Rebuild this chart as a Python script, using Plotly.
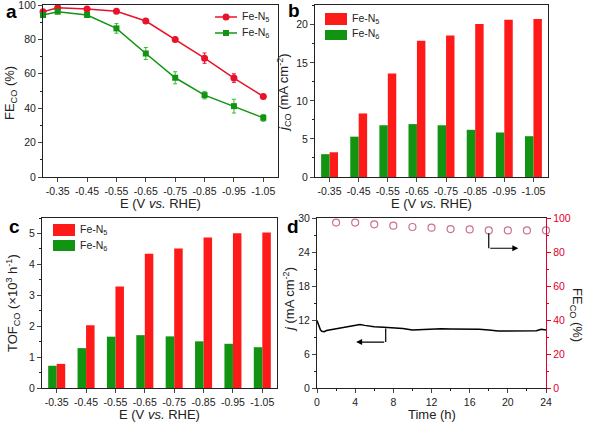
import plotly.graph_objects as go

# ---------------- data ----------------
E_a = [-0.30, -0.35, -0.45, -0.55, -0.65, -0.75, -0.85, -0.95, -1.05]
fe_n5 = [96.1, 98.4, 97.7, 96.3, 90.7, 80.0, 69.1, 57.5, 46.8]
fe_n5_err = [0.8, 0.8, 0.8, 0.8, 1.0, 1.2, 3.0, 2.5, 1.0]
fe_n6 = [94.2, 96.1, 94.2, 86.4, 71.8, 57.7, 47.6, 41.2, 34.4]
fe_n6_err = [0.8, 0.8, 0.8, 2.8, 3.5, 3.5, 2.2, 4.0, 2.0]

E = [-0.35, -0.45, -0.55, -0.65, -0.75, -0.85, -0.95, -1.05]
E_labels = ["-0.35", "-0.45", "-0.55", "-0.65", "-0.75", "-0.85", "-0.95", "-1.05"]
jco_n5 = [3.25, 8.35, 13.6, 17.9, 18.6, 20.1, 20.65, 20.75]
jco_n6 = [3.0, 5.3, 6.8, 6.95, 6.8, 6.2, 5.85, 5.36]
tof_n5 = [0.78, 2.03, 3.28, 4.34, 4.51, 4.87, 5.01, 5.03]
tof_n6 = [0.72, 1.29, 1.66, 1.71, 1.67, 1.51, 1.43, 1.32]

t_line = [0, 0.1, 0.2, 0.35, 0.5, 0.75, 1, 1.5, 2, 3, 4, 4.5, 5, 6, 7, 8, 9, 10, 11, 12,
          13, 14, 15, 16, 17, 18, 19, 20, 21, 22, 23, 23.5, 24]
j_line = [11.9, 11.5, 10.8, 10.3, 10.0, 9.95, 10.15, 10.3, 10.5, 10.7, 11.05, 11.2, 11.05,
          10.8, 10.7, 10.65, 10.5, 10.25, 10.3, 10.45, 10.45, 10.4, 10.4, 10.4, 10.35,
          10.25, 10.05, 10.05, 10.05, 10.05, 10.1, 10.35, 10.25]
t_fe = [2, 4, 6, 8, 10, 12, 14, 16, 18, 20, 22, 24]
fe_t = [97.3, 97.3, 96.3, 95.5, 94.7, 94.3, 93.5, 93.3, 92.7, 92.7, 92.7, 92.7]

RED = "#ff1a1a"
RED_LINE = "#e8132b"
GREEN = "#129412"
FONT = "Liberation Sans, Arial, sans-serif"
W, H = 590, 424

def fx(px):
    return px / W

def fy(py):
    return 1 - py / H

fig = go.Figure()

# panel a
fig.add_trace(go.Scatter(x=E_a, y=fe_n5, mode="lines+markers", name="Fe-N<sub>5</sub>",
                         line=dict(color=RED_LINE, width=1.5),
                         marker=dict(symbol="circle", size=7, color=RED_LINE),
                         error_y=dict(type="data", array=fe_n5_err, color=RED_LINE, thickness=1, width=2),
                         cliponaxis=False, xaxis="x", yaxis="y", showlegend=False))
fig.add_trace(go.Scatter(x=E_a, y=fe_n6, mode="lines+markers", name="Fe-N<sub>6</sub>",
                         line=dict(color=GREEN, width=1.5),
                         marker=dict(symbol="square", size=6, color=GREEN),
                         error_y=dict(type="data", array=fe_n6_err, color="#33bb33", thickness=1, width=2),
                         cliponaxis=False, xaxis="x", yaxis="y", showlegend=False))

# panel b (red trace first: on the reversed axis it lands on the right)
fig.add_trace(go.Bar(x=E, y=jco_n5, name="Fe-N5", marker=dict(color=RED, line=dict(width=0)),
                     xaxis="x2", yaxis="y2", showlegend=False, offsetgroup="g5"))
fig.add_trace(go.Bar(x=E, y=jco_n6, name="Fe-N6", marker=dict(color=GREEN, line=dict(width=0)),
                     xaxis="x2", yaxis="y2", showlegend=False, offsetgroup="g6"))
# panel c
fig.add_trace(go.Bar(x=E, y=tof_n5, name="Fe-N5", marker=dict(color=RED, line=dict(width=0)),
                     xaxis="x3", yaxis="y3", showlegend=False, offsetgroup="g5"))
fig.add_trace(go.Bar(x=E, y=tof_n6, name="Fe-N6", marker=dict(color=GREEN, line=dict(width=0)),
                     xaxis="x3", yaxis="y3", showlegend=False, offsetgroup="g6"))

# panel d
fig.add_trace(go.Scatter(x=t_line, y=j_line, mode="lines", line=dict(color="black", width=1.5),
                         xaxis="x4", yaxis="y4", showlegend=False))
fig.add_trace(go.Scatter(x=t_fe, y=fe_t, mode="markers",
                         marker=dict(symbol="circle-open", size=7, color="#cc6f96", line=dict(width=1.2)),
                         cliponaxis=False, xaxis="x4", yaxis="y5", showlegend=False))

tickfont = dict(family=FONT, size=10.5, color="#222")
common = dict(showgrid=False, zeroline=False, automargin=False, ticklabeloverflow="allow",
              ticks="outside", ticklen=4, tickwidth=1, showline=True)

def xax(domain, anchor):
    return dict(domain=domain, anchor=anchor, range=[-0.30, -1.10], tickmode="array",
                tickvals=E, ticktext=E_labels, linecolor="#222", linewidth=1, mirror=True,
                tickfont=tickfont, **common)

def yax(domain, anchor, rng, dtick, mdt):
    return dict(domain=domain, anchor=anchor, range=rng, dtick=dtick, tick0=0,
                minor=dict(ticks="outside", ticklen=2, dtick=mdt, tick0=0, tickcolor="#222"),
                linecolor="#222", linewidth=1, mirror=True, tickfont=tickfont, **common)

dom_a_x = [fx(43), fx(278)]
dom_b_x = [fx(315), fx(548)]
dom_c_x = [fx(42), fx(277)]
dom_d_x = [fx(317), fx(546)]
dom_top = [fy(177), fy(5)]
dom_bot = [fy(388), fy(218)]

layout = dict(
    width=W, height=H, margin=dict(l=0, r=0, t=0, b=0, autoexpand=False),
    paper_bgcolor="white", plot_bgcolor="white",
    font=dict(family=FONT, color="#222"),
    barmode="group", bargap=0.42, bargroupgap=0,
    showlegend=False,
    xaxis=xax(dom_a_x, "y"),
    yaxis=yax(dom_top, "x", [0, 100], 20, 10),
    xaxis2=xax(dom_b_x, "y2"),
    yaxis2=yax(dom_top, "x2", [0, 22.6], 5, 2.5),
    xaxis3=xax(dom_c_x, "y3"),
    yaxis3=yax(dom_bot, "x3", [0, 5.5], 1, 0.5),
    xaxis4=dict(domain=dom_d_x, anchor="y4", range=[0, 24], dtick=4, tick0=0,
                minor=dict(ticks="outside", ticklen=2, dtick=2, tickcolor="#222"),
                linecolor="#222", linewidth=1, mirror=True, tickfont=tickfont, **common),
    yaxis4=dict(domain=dom_bot, anchor="x4", range=[0, 30], dtick=6, tick0=0,
                minor=dict(ticks="outside", ticklen=2, dtick=3, tickcolor="#222"),
                linecolor="#222", linewidth=1, mirror=False, tickfont=tickfont, **common),
    yaxis5=dict(overlaying="y4", anchor="x4", side="right", range=[0, 100], dtick=20, tick0=0,
                tickcolor="#e0002a",
                minor=dict(ticks="outside", ticklen=2, dtick=10, tickcolor="#e0002a"),
                linecolor="#e0002a", linewidth=1.2,
                tickfont=dict(family=FONT, size=10.5, color="#e0002a"), **common),
)
fig.update_layout(**layout)

ann = []
title_font = dict(family=FONT, size=13, color="#222")
# x titles
for cx, cy, txt in [((43 + 278) / 2, 203, "E (V <i>vs.</i> RHE)"),
                    ((315 + 548) / 2, 203, "E (V <i>vs.</i> RHE)"),
                    ((42 + 277) / 2, 414, "E (V <i>vs.</i> RHE)"),
                    ((317 + 546) / 2, 414, "Time (h)")]:
    ann.append(dict(x=fx(cx), y=fy(cy), xref="paper", yref="paper", text=txt, showarrow=False,
                    font=title_font, xanchor="center", yanchor="middle"))
# y titles
for cx, cy, txt, ang in [(11, 93, "FE<sub>CO</sub> (%)", -90),
                         (284, 93, "<i>j</i><sub>CO</sub> (mA cm<sup>-2</sup>)", -90),
                         (13, 303, "TOF<sub>CO</sub> (×10<sup>3</sup> h<sup>-1</sup>)", -90),
                         (289, 300, "<i>j</i> (mA cm<sup>-2</sup>)", -90),
                         (577, 315, "FE<sub>CO</sub> (%)", 90)]:
    ann.append(dict(x=fx(cx), y=fy(cy), xref="paper", yref="paper", text=txt, showarrow=False,
                    font=title_font, textangle=ang, xanchor="center", yanchor="middle"))
# panel letters
for cx, cy, txt in [(11, 12, "a"), (294, 10, "b"), (14, 226, "c"), (293, 226, "d")]:
    ann.append(dict(x=fx(cx), y=fy(cy), xref="paper", yref="paper", text="<b>%s</b>" % txt,
                    showarrow=False, font=dict(family=FONT, size=19, color="black"),
                    xanchor="center", yanchor="middle"))
# legend texts
leg_font = dict(family=FONT, size=10.5, color="#222")
for lx, ly, txt in [(240, 17, "Fe-N<sub>5</sub>"), (240, 33, "Fe-N<sub>6</sub>"),
                    (350, 19, "Fe-N<sub>5</sub>"), (350, 34, "Fe-N<sub>6</sub>"),
                    (78, 230, "Fe-N<sub>5</sub>"), (78, 246, "Fe-N<sub>6</sub>")]:
    ann.append(dict(x=fx(lx), y=fy(ly), xref="paper", yref="paper", text=txt, showarrow=False,
                    font=leg_font, xanchor="left", yanchor="middle"))
# arrows in d
ann.append(dict(x=4.1, y=8.1, ax=7.2, ay=8.1, xref="x4", yref="y4", axref="x4", ayref="y4",
                showarrow=True, arrowhead=2, arrowsize=1, arrowwidth=1.2, arrowcolor="black", text=""))
ann.append(dict(x=21.1, y=82.2, ax=18.0, ay=82.2, xref="x4", yref="y5", axref="x4", ayref="y5",
                showarrow=True, arrowhead=2, arrowsize=1, arrowwidth=1.2, arrowcolor="black", text=""))

shapes = [
    dict(type="line", xref="x4", yref="y4", x0=7.2, x1=7.2, y0=10.5, y1=8.1, line=dict(color="black", width=1.2)),
    dict(type="line", xref="x4", yref="y5", x0=18.0, x1=18.0, y0=91.0, y1=82.2, line=dict(color="black", width=1.2)),
    # legend a
    dict(type="line", xref="paper", yref="paper", x0=fx(215), x1=fx(237), y0=fy(17), y1=fy(17),
         line=dict(color=RED_LINE, width=1.5)),
    dict(type="circle", xref="paper", yref="paper", x0=fx(222.5), x1=fx(229.5), y0=fy(20.5), y1=fy(13.5),
         fillcolor=RED_LINE, line=dict(width=0)),
    dict(type="line", xref="paper", yref="paper", x0=fx(215), x1=fx(237), y0=fy(33), y1=fy(33),
         line=dict(color=GREEN, width=1.5)),
    dict(type="rect", xref="paper", yref="paper", x0=fx(223), x1=fx(229), y0=fy(36), y1=fy(30),
         fillcolor=GREEN, line=dict(width=0)),
    # legend swatches b
    dict(type="rect", xref="paper", yref="paper", x0=fx(325), x1=fx(347), y0=fy(25), y1=fy(13),
         fillcolor=RED, line=dict(width=0)),
    dict(type="rect", xref="paper", yref="paper", x0=fx(325), x1=fx(347), y0=fy(40), y1=fy(30),
         fillcolor=GREEN, line=dict(width=0)),
    # legend swatches c
    dict(type="rect", xref="paper", yref="paper", x0=fx(53), x1=fx(75), y0=fy(236), y1=fy(224),
         fillcolor=RED, line=dict(width=0)),
    dict(type="rect", xref="paper", yref="paper", x0=fx(53), x1=fx(75), y0=fy(251), y1=fy(240),
         fillcolor=GREEN, line=dict(width=0)),
]
fig.update_layout(annotations=ann, shapes=shapes)

fig.write_html("out.html", config={"displayModeBar": False},
               post_script="document.body.style.margin='0px';document.body.style.overflow='hidden';")
